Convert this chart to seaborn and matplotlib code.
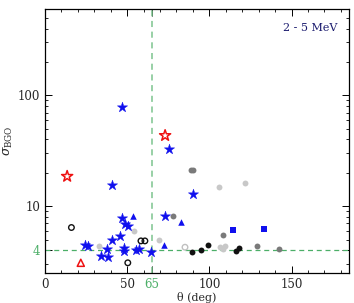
import matplotlib
matplotlib.use("Agg")
import matplotlib.pyplot as plt
import seaborn as sns
import pandas as pd
from matplotlib.ticker import FixedLocator, MultipleLocator, NullFormatter, LogLocator

# theta (deg) and sigma_BGO for each source class
blue_star_x = [47, 75.3, 90, 40.9, 73.1, 24.4, 26.4, 34.2, 38.5, 37.9, 40.9, 45.7,
               47.1, 48.9, 50.5, 47.8, 48.2, 55.4, 57, 64.5]
blue_star_y = [78, 32.6, 12.8, 15.7, 8.1, 4.5, 4.4, 3.55, 3.5, 4.13, 5.0, 5.37,
               7.9, 6.94, 6.6, 4.2, 3.95, 4.05, 4.1, 3.88]
blue_tri_x = [53.6, 82.8, 72.7]
blue_tri_y = [8.1, 7.2, 4.43]
blue_sq_x = [114.2, 133.3]
blue_sq_y = [6.1, 6.2]
red_star_x = [13.5, 73.1]
red_star_y = [18.6, 43.4]
red_tri_x = [21.8]
red_tri_y = [3.09]
open_circ_x = [16.1, 50.4, 58.4, 60.8]
open_circ_y = [6.43, 3.09, 4.87, 4.87]
light_x = [32.6, 54.4, 69.5, 106, 121.9, 106.2, 108.2, 109.8]
light_y = [4.34, 6.04, 5.0, 15.0, 16.3, 4.25, 4.1, 4.36]
light_open_x = [85.2]
light_open_y = [4.27]
gray_x = [88.6, 90.3, 78, 108.2, 128.9, 142.4]
gray_y = [21.3, 21.3, 8.25, 5.5, 4.36, 4.1]
black_x = [89.2, 95.1, 99.3, 116.2, 117.8]
black_y = [3.9, 4.07, 4.43, 3.97, 4.16]

theta_cut = 65
sigma_cut = 4

sns.set_style("ticks")
plt.rcParams['font.family'] = ['DejaVu Serif']
plt.rcParams['mathtext.fontset'] = 'dejavuserif'

fig = plt.figure(figsize=(3.54, 3.03), dpi=100)
ax = fig.add_axes([0.127, 0.099, 0.859, 0.871])

green = "#4caf68"
ax.axvline(theta_cut, color="#7cc48e", ls=(0, (4, 3)), lw=1.1, zorder=1)
ax.axhline(sigma_cut, color=green, ls=(0, (4, 3)), lw=0.9, zorder=1)

def draw(xs, ys, marker, size, face, edge, lw=0.8):
    df = pd.DataFrame({"theta": xs, "sigma": ys})
    sns.scatterplot(data=df, x="theta", y="sigma", marker=marker, s=size,
                    color=face, edgecolor=edge, linewidth=lw, ax=ax, zorder=3)

draw(light_x, light_y, "o", 18, "#c8c8c8", "#c8c8c8", 0)
draw(light_open_x, light_open_y, "o", 16, "none", "#c0c0c0", 1.0)
draw(gray_x, gray_y, "o", 18, "#7a7a7a", "#7a7a7a", 0)
draw(black_x, black_y, "o", 18, "#111111", "#111111", 0)
draw(open_circ_x, open_circ_y, "o", 16, "none", "#111111", 1.0)
draw(blue_star_x, blue_star_y, "*", 60, "#1010ee", "#1010ee", 0.3)
draw(blue_tri_x, blue_tri_y, "^", 22, "#1010ee", "#1010ee", 0)
draw(blue_sq_x, blue_sq_y, "s", 24, "#1010ee", "#1010ee", 0)
draw(red_star_x, red_star_y, "*", 70, "none", "#ee1111", 1.1)
draw(red_tri_x, red_tri_y, "^", 26, "none", "#ee1111", 1.1)

ax.set_yscale("log")
ax.set_xlim(0, 185)
ax.set_ylim(2.5, 600)

ax.xaxis.set_major_locator(FixedLocator([0, 50, theta_cut, 100, 150]))
ax.xaxis.set_minor_locator(MultipleLocator(10))
ax.set_xticklabels(["0", "50", "65", "100", "150"])
ax.yaxis.set_major_locator(FixedLocator([sigma_cut, 10, 100]))
ax.yaxis.set_minor_locator(LogLocator(base=10, subs=range(2, 10)))
ax.set_yticklabels(["4", "10", "100"])
ax.yaxis.set_minor_formatter(NullFormatter())
ax.get_xticklabels()[2].set_color(green)
ax.get_yticklabels()[0].set_color(green)

ax.tick_params(which="both", direction="in", top=True, right=True,
               labelsize=8.5, color="black")
ax.tick_params(which="major", length=5, width=0.7)
ax.tick_params(which="minor", length=2.5, width=0.6)
for sp in ax.spines.values():
    sp.set_linewidth(0.9)
    sp.set_color("black")

ax.set_xlabel("θ (deg)", fontsize=8, labelpad=1)
ax.set_ylabel(r"$\sigma_{\rm BGO}$", fontsize=9, labelpad=2)
ax.text(0.96, 0.93, "2 - 5 MeV", transform=ax.transAxes, ha="right",
        va="center", color="#1a1a6e", fontsize=8)

fig.savefig("out.png", dpi=100)
